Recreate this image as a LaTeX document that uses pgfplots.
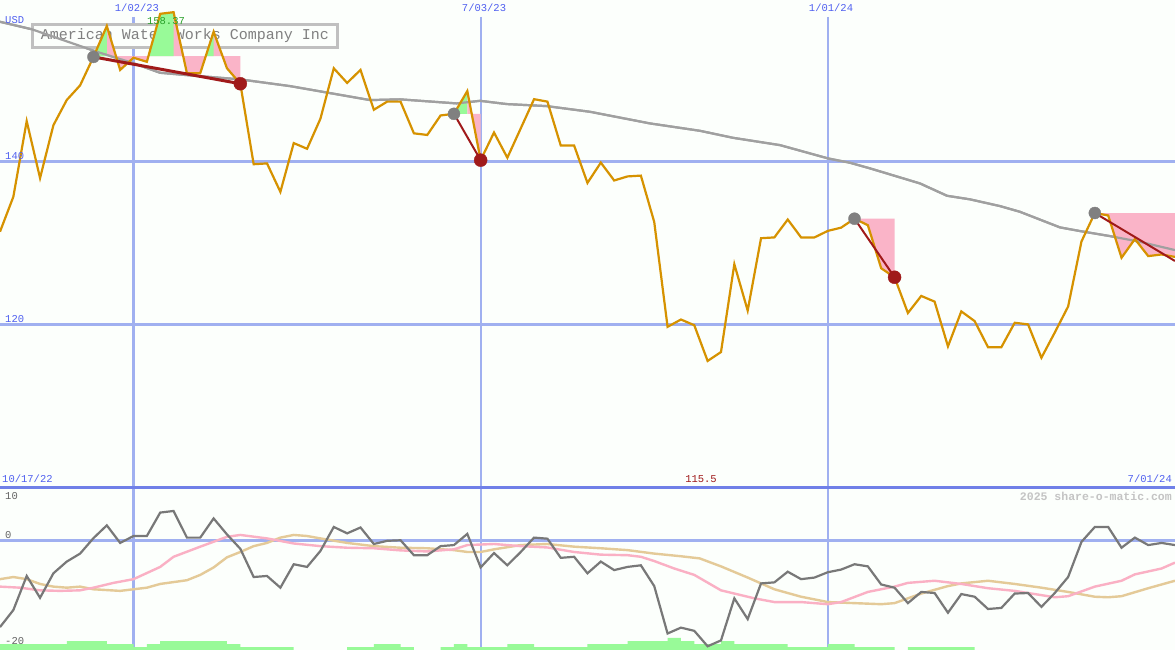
\documentclass[border=0pt]{standalone}
\usepackage{pgfplots}
\pgfplotsset{compat=1.18}
\usepackage{fontspec}
\setmainfont{Liberation Sans}
\setmonofont{Liberation Mono}
\definecolor{bg}{RGB}{252,255,252}
\definecolor{gold}{RGB}{214,146,0}
\definecolor{magray}{RGB}{160,160,160}
\definecolor{gridblue}{RGB}{160,176,240}
\definecolor{sepblue}{RGB}{112,128,232}
\definecolor{lblblue}{RGB}{80,96,240}
\definecolor{pinkfill}{RGB}{250,180,200}
\definecolor{greenfill}{RGB}{152,250,152}
\definecolor{darkred}{RGB}{160,26,26}
\definecolor{dotgray}{RGB}{128,128,128}
\definecolor{momgray}{RGB}{120,120,120}
\definecolor{pinkline}{RGB}{250,176,196}
\definecolor{tanline}{RGB}{228,202,152}
\definecolor{boxgray}{RGB}{192,192,192}
\definecolor{titlegray}{RGB}{128,128,128}
\definecolor{labgreen}{RGB}{40,160,40}
\definecolor{wmgray}{RGB}{196,196,196}
\definecolor{ticgray}{RGB}{100,100,100}

\pgfplotstableread{
i p
0 131.4
1 135.7
2 145.0
3 138.0
4 144.5
5 147.6
6 149.4
7 152.9
8 156.7
9 151.3
10 152.8
11 152.3
12 158.2
13 158.4
14 150.9
15 150.9
16 156.0
17 151.5
18 149.6
19 139.7
20 139.8
21 136.3
22 142.3
23 141.6
24 145.3
25 151.5
26 149.7
27 151.3
28 146.4
29 147.4
30 147.4
31 143.5
32 143.3
33 145.7
34 145.9
35 148.7
36 140.2
37 143.6
38 140.5
39 144.1
40 147.7
41 147.4
42 142.0
43 142.0
44 137.4
45 139.9
46 137.7
47 138.2
48 138.3
49 132.6
50 119.7
51 120.6
52 119.9
53 115.5
54 116.6
55 127.4
56 121.7
57 130.6
58 130.7
59 132.9
60 130.7
61 130.7
62 131.5
63 131.9
64 133.0
65 132.2
66 126.9
67 125.8
68 121.4
69 123.5
70 122.8
71 117.3
72 121.6
73 120.4
74 117.2
75 117.2
76 120.2
77 120.0
78 115.9
79 119.0
80 122.2
81 130.2
82 133.7
83 133.4
84 128.2
85 130.5
86 128.4
87 128.6
88 128.3
}\price

\pgfplotstableread{
i m
0 157.22
2.40 156.29
7.26 153.53
10.04 152.10
11.98 150.95
14.0 150.66
17.97 150.14
21.72 149.31
27.71 147.59
29.96 147.68
34.20 147.18
35.95 147.50
37.95 147.10
40.94 146.85
44.19 146.15
48.68 144.72
52.43 143.81
54.90 142.95
58.42 142.05
62.01 140.42
63.66 139.88
65.16 139.19
68.90 137.34
70.93 135.82
72.65 135.38
74.90 134.55
76.39 133.85
79.39 131.93
80.89 131.48
83.13 130.86
85.38 130.16
88.0 129.14
}\mavg

\pgfplotstableread{
i v
0 -16.2
1 -13.0
2 -6.6
3 -10.7
4 -6.1
5 -3.9
6 -2.4
7 0.5
8 2.9
9 -0.4
10 0.9
11 0.9
12 5.3
13 5.6
14 0.6
15 0.6
16 4.2
17 1.2
18 -1.5
19 -6.8
20 -6.6
21 -8.8
22 -4.4
23 -4.9
24 -1.9
25 2.6
26 1.4
27 2.5
28 -0.6
29 0.0
30 0.1
31 -2.7
32 -2.7
33 -1.0
34 -0.8
35 1.3
36 -5.0
37 -2.3
38 -4.6
39 -2.1
40 0.6
41 0.4
42 -3.2
43 -3.0
44 -6.1
45 -3.9
46 -5.5
47 -4.9
48 -4.6
49 -8.5
50 -17.4
51 -16.3
52 -16.9
53 -19.8
54 -18.7
55 -10.8
56 -14.7
57 -8.0
58 -7.8
59 -5.8
60 -7.2
61 -6.9
62 -5.9
63 -5.4
64 -4.4
65 -4.8
66 -8.2
67 -8.8
68 -11.7
69 -9.6
70 -9.8
71 -13.5
72 -10.0
73 -10.5
74 -12.8
75 -12.6
76 -9.9
77 -9.8
78 -12.4
79 -9.8
80 -6.8
81 -0.2
82 2.6
83 2.6
84 -1.3
85 0.6
86 -0.8
87 -0.4
88 -0.8
}\mom

\pgfplotstableread{
i v
0 -8.6
1.5 -8.8
3 -9.3
4.5 -9.4
6 -9.3
7 -8.8
8.5 -7.9
10 -7.2
12 -4.9
13 -3.0
15 -1.1
17 0.75
18 1.1
20 0.45
22 -0.5
24 -1.0
26 -1.3
28 -1.4
30 -1.8
32 -2.0
34 -1.6
35 -0.8
37 -0.6
39 -1.0
41 -1.25
43 -2.1
45 -2.6
47 -2.7
48 -3.0
49 -3.8
50.5 -5.2
52 -6.4
54 -9.3
55 -9.9
56.5 -10.8
58 -11.5
60 -11.5
62 -11.9
63 -11.5
65 -9.6
67 -8.6
68 -7.9
70 -7.5
72 -8.1
74 -8.9
76 -9.4
78 -10.2
79 -10.6
80 -10.4
82 -8.6
84 -7.5
85 -6.3
87 -5.2
88 -4.1
}\pinkl

\pgfplotstableread{
i v
0 -7.2
1 -6.8
2 -7.2
3 -8.1
4 -8.6
5 -8.8
6 -8.6
7 -9.1
9 -9.4
10 -9.1
11 -8.8
12 -8.1
14 -7.4
15 -6.4
16 -5.0
17 -3.1
18 -2.1
19 -1.0
20 -0.4
21 0.6
22 1.1
23 0.9
24 0.45
26 -0.4
28 -1.0
30 -1.3
32 -1.4
34 -1.75
35 -2.1
36 -2.1
37 -1.6
39 -0.8
41 -0.6
43 -1.1
45 -1.4
47 -1.75
49 -2.4
51 -2.9
52.4 -3.3
54 -4.8
56 -6.9
57 -8.0
58 -9.1
60 -10.5
62 -11.5
64 -11.7
66 -11.9
67 -11.7
69 -9.9
71 -8.5
72 -8.0
74 -7.5
76 -8.1
78 -8.8
80 -9.6
82 -10.5
83 -10.6
84 -10.4
86 -8.9
88 -7.5
}\tanl

\begin{document}
\begin{tikzpicture}[x=1pt,y=1pt]
\fill[bg] (0pt,0pt) rectangle (1175pt,-650pt);
\path[use as bounding box] (0pt,0pt) rectangle (1175pt,-650pt);
\foreach \xx in {133.5,480.6,827.7} \draw[gridblue, line width=2.2pt] (\xx pt,-17pt) -- (\xx pt,-650pt);

% main panel, layer A
\begin{axis}[at={(0pt,0pt)},anchor=north west,scale only axis,width=1175pt,height=487pt,
  xmin=0,xmax=88,ymin=100,ymax=159.9,hide axis]
\draw[gridblue,line width=3pt] (axis cs:0,140) -- (axis cs:88,140);
\draw[gridblue,line width=3pt] (axis cs:0,120) -- (axis cs:88,120);
\addplot[magray,line width=2.2pt] table[x=i,y=m] {\mavg};
\end{axis}

\node[draw=boxgray, line width=2.5pt, fill=bg, minimum width=305pt, minimum height=23pt,
  inner sep=0pt, text=titlegray, font=\ttfamily\fontsize{15}{15}\selectfont]
  at (185pt,-36pt) {American Water Works Company Inc};

% main panel, layer B
\begin{axis}[at={(0pt,0pt)},anchor=north west,scale only axis,width=1175pt,height=487pt,
  xmin=0,xmax=88,ymin=100,ymax=159.9,hide axis]
% pattern 1
\addplot[fill=pinkfill,draw=none] coordinates {(8,153.0)(8,156.7)(9,151.3)(10,152.8)(11,152.3)(12,158.2)(13,158.4)(14,150.9)(15,150.9)(16,156.0)(17,151.5)(18,149.6)(18,153.0)} --cycle;
\addplot[fill=greenfill,draw=none] coordinates {(7,152.9)(8,156.7)(8,153.0)} --cycle;
\addplot[fill=greenfill,draw=none] coordinates {(11.1,153.0)(12,158.2)(13,158.4)(13,153.0)} --cycle;
\addplot[fill=greenfill,draw=none] coordinates {(15.4,153.0)(16,156.0)(16,153.0)} --cycle;
% pattern 2
\addplot[fill=greenfill,draw=none] coordinates {(34,145.9)(35,148.7)(35,145.9)} --cycle;
\addplot[fill=pinkfill,draw=none] coordinates {(35,145.9)(35,148.7)(36,140.2)(36,145.9)} --cycle;
% pattern 3
\addplot[fill=pinkfill,draw=none] coordinates {(64,133.0)(65,132.2)(66,126.9)(67,125.8)(67,133.0)} --cycle;
% pattern 4
\addplot[fill=pinkfill,draw=none] coordinates {(82,133.7)(83,133.4)(84,128.2)(85,130.5)(86,128.4)(87,128.6)(88,128.3)(88,133.7)} --cycle;
% grey MA redrawn over fills
\addplot[magray,line width=2.2pt] table[x=i,y=m] {\mavg};
% start dots
\addplot[only marks,mark=*,mark size=6pt,mark options={draw=dotgray,fill=dotgray}] coordinates {(7,152.9)(34,145.9)(64,133.0)(82,133.7)};
% price
\addplot[gold,line width=2.2pt] table[x=i,y=p] {\price};
% red lines
\addplot[darkred,line width=3pt] coordinates {(7,152.9)(18,149.6)};
\addplot[darkred,line width=2pt] coordinates {(34,145.9)(36,140.2)};
\addplot[darkred,line width=2pt] coordinates {(64,133.0)(67,125.8)};
\addplot[darkred,line width=2pt] coordinates {(82,133.7)(88,127.8)};
\addplot[only marks,mark=*,mark size=6.5pt,mark options={draw=darkred,fill=darkred}] coordinates {(18,149.6)(36,140.2)(67,125.8)};
\end{axis}

% lower panel bars
\begin{axis}[at={(0pt,-487pt)},anchor=north west,scale only axis,width=1175pt,height=163pt,
  xmin=0,xmax=88,ymin=0,ymax=54.3,hide axis]
\addplot[const plot,fill=greenfill,draw=none] coordinates {(0,2)(5,3)(8,2)(10,1)(11,2)(12,3)(17,2)(18,1)(22,0)(26,1)(28,2)(30,1)(31,0)(33,1)(34,2)(35,1)(38,2)(40,1)(44,2)(47,3)(50,4)(51,3)(52,2)(54,3)(55,2)(59,1)(62,2)(64,1)(67,0)(68,1)(73,0)(88,0)} \closedcycle;
\end{axis}

% lower panel lines
\begin{axis}[at={(0pt,-487pt)},anchor=north west,scale only axis,width=1175pt,height=163pt,
  xmin=0,xmax=88,ymin=-20.5,ymax=10.1,hide axis]
\draw[gridblue,line width=3pt] (axis cs:0,0) -- (axis cs:88,0);
\addplot[tanline,line width=2.4pt] table[x=i,y=v] {\tanl};
\addplot[pinkline,line width=2.4pt] table[x=i,y=v] {\pinkl};
\addplot[momgray,line width=2.2pt] table[x=i,y=v] {\mom};
\end{axis}

\draw[sepblue,line width=3pt] (0pt,-487pt) -- (1175pt,-487pt);

% labels
\begin{scope}[every node/.style={font=\ttfamily\fontsize{10.5}{10.5}\selectfont, inner sep=0pt}]
\node[lblblue,anchor=west] at (5pt,-20pt) {USD};
\node[lblblue] at (137pt,-8pt) {1/02/23};
\node[lblblue] at (484pt,-8pt) {7/03/23};
\node[lblblue] at (831pt,-8pt) {1/01/24};
\node[lblblue,anchor=west] at (5pt,-156pt) {140};
\node[lblblue,anchor=west] at (5pt,-319pt) {120};
\node[labgreen] at (166pt,-21pt) {158.37};
\node[darkred] at (701pt,-479pt) {115.5};
\node[lblblue,anchor=west] at (2pt,-479pt) {10/17/22};
\node[lblblue,anchor=east] at (1172pt,-479pt) {7/01/24};
\node[ticgray,anchor=west] at (5pt,-496pt) {10};
\node[ticgray,anchor=west] at (5pt,-535pt) {0};
\node[ticgray,anchor=west] at (5pt,-641pt) {-20};
\node[wmgray,anchor=east,font=\ttfamily\bfseries\fontsize{11.5}{11.5}\selectfont] at (1172pt,-496pt) {2025 share-o-matic.com};
\end{scope}
\end{tikzpicture}
\end{document}
